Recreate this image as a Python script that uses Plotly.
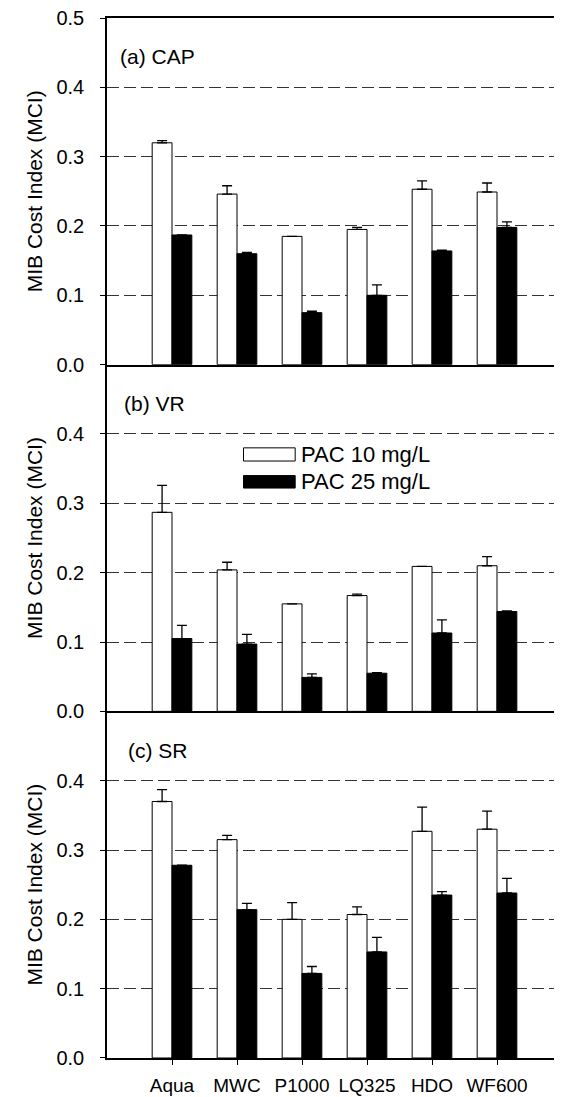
import plotly.graph_objects as go

categories = ["Aqua", "MWC", "P1000", "LQ325", "HDO", "WF600"]
series_names = ["PAC 10 mg/L", "PAC 25 mg/L"]
panel_labels = ["(a) CAP", "(b) VR", "(c) SR"]

# (a) CAP
cap_10 = [0.320, 0.246, 0.185, 0.195, 0.253, 0.249]
cap_10_err = [0.003, 0.012, 0.000, 0.003, 0.012, 0.013]
cap_25 = [0.187, 0.160, 0.075, 0.100, 0.164, 0.198]
cap_25_err = [0.000, 0.002, 0.002, 0.015, 0.001, 0.008]

# (b) VR
vr_10 = [0.287, 0.204, 0.155, 0.167, 0.209, 0.210]
vr_10_err = [0.039, 0.011, 0.000, 0.002, 0.000, 0.013]
vr_25 = [0.105, 0.097, 0.049, 0.055, 0.113, 0.144]
vr_25_err = [0.019, 0.014, 0.005, 0.001, 0.019, 0.001]

# (c) SR
sr_10 = [0.370, 0.315, 0.200, 0.207, 0.327, 0.330]
sr_10_err = [0.017, 0.006, 0.024, 0.011, 0.035, 0.026]
sr_25 = [0.278, 0.214, 0.122, 0.153, 0.235, 0.238]
sr_25_err = [0.000, 0.009, 0.010, 0.021, 0.005, 0.021]

y_ticks_top = [0.0, 0.1, 0.2, 0.3, 0.4, 0.5]
y_ticks_low = [0.0, 0.1, 0.2, 0.3, 0.4]
y_title = "MIB Cost Index (MCI)"

panels = [
    (cap_10, cap_10_err, cap_25, cap_25_err),
    (vr_10, vr_10_err, vr_25, vr_25_err),
    (sr_10, sr_10_err, sr_25, sr_25_err),
]

FONT = "Arial, Liberation Sans, sans-serif"
fig = go.Figure()

domains = [[0.6667, 1.0], [0.3333, 0.6667], [0.0, 0.3333]]
fills = ["white", "black"]

for i, (v10, e10, v25, e25) in enumerate(panels):
    xa = "x" if i == 0 else f"x{i+1}"
    ya = "y" if i == 0 else f"y{i+1}"
    for s, (vals, errs) in enumerate([(v10, e10), (v25, e25)]):
        fig.add_trace(go.Bar(
            x=categories, y=vals, name=series_names[s],
            xaxis=xa, yaxis=ya, showlegend=False,
            marker=dict(color=fills[s], line=dict(color="black", width=1)),
            error_y=dict(type="data", symmetric=False, array=errs,
                         arrayminus=[0] * len(errs), color="black",
                         thickness=1.3, width=5),
        ))

# the page body adds an 8px offset, so the figure is sized to end at the window edge
layout = dict(
    width=554, height=1089,
    margin=dict(l=99, r=0, t=10, b=39, autoexpand=False),
    paper_bgcolor="white", plot_bgcolor="white",
    barmode="group", bargap=0.39, bargroupgap=0.0,
    font=dict(family=FONT, color="black"),
)

for i in range(3):
    xk = "xaxis" if i == 0 else f"xaxis{i+1}"
    yk = "yaxis" if i == 0 else f"yaxis{i+1}"
    ya = "y" if i == 0 else f"y{i+1}"
    bottom = (i == 2)
    layout[xk] = dict(
        domain=[0, 1], anchor=ya, type="category",
        categoryorder="array", categoryarray=categories,
        range=[-1, 6], showline=True, linecolor="black", linewidth=1.5,
        mirror=(i == 0), showgrid=False, zeroline=False, automargin=False,
        ticks="outside" if bottom else "", ticklen=5, tickcolor="black",
        showticklabels=bottom, tickfont=dict(size=19, family=FONT),
        ticklabelstandoff=4, ticklabeloverflow="allow",
    )
    if i > 0:
        layout[xk]["matches"] = "x"
    layout[yk] = dict(
        domain=domains[i], anchor="x" if i == 0 else f"x{i+1}",
        range=[0, 0.5], tickvals=y_ticks_top if i == 0 else y_ticks_low,
        tickformat=".1f", ticks="outside", ticklen=5, tickcolor="black",
        showline=True, linecolor="black", linewidth=1.5, automargin=False,
        showgrid=True, gridcolor="#333333", gridwidth=1, griddash="12px,5px",
        zeroline=False, tickfont=dict(size=20, family=FONT),
        ticklabelstandoff=12, ticklabeloverflow="allow",
        title=dict(text=y_title, font=dict(size=21, family=FONT), standoff=8),
    )

fig.update_layout(**layout)

# panel labels
label_x = [0.024, 0.033, 0.042]
for i, txt in enumerate(panel_labels):
    xr = "x" if i == 0 else f"x{i+1}"
    yr = "y" if i == 0 else f"y{i+1}"
    fig.add_annotation(text=txt, xref=f"{xr} domain", yref=f"{yr} domain",
                       x=label_x[i], y=0.888, xanchor="left", yanchor="middle",
                       showarrow=False, font=dict(size=21, family=FONT, color="black"))

# legend (inside panel b)
leg_boxes = [(0.380, 0.361), (0.340, 0.322)]
leg_text_y = [0.370, 0.331]
for s in range(2):
    fig.add_shape(type="rect", xref="x2", yref="y2",
                  x0=1.10, x1=1.895, y0=leg_boxes[s][1], y1=leg_boxes[s][0],
                  fillcolor=fills[s], line=dict(color="black", width=1))
    fig.add_annotation(text=series_names[s], xref="x2", yref="y2",
                       x=1.95, y=leg_text_y[s], xanchor="left", yanchor="middle",
                       showarrow=False, font=dict(size=22, family=FONT, color="black"))

fig.write_html("out.html")
